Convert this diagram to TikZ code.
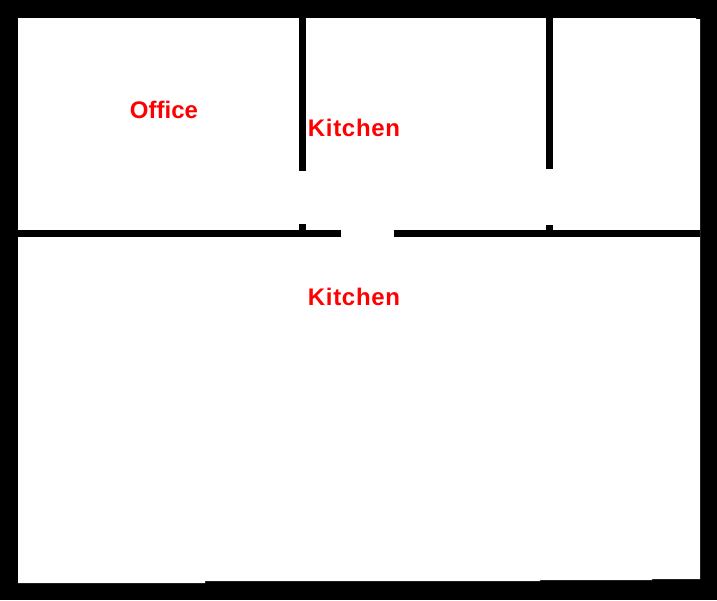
\documentclass[tikz,border=0pt]{standalone}
\usepackage{fontspec}
\setmainfont{Liberation Sans}
\newfontfamily\spacedfont[LetterSpace=3]{Liberation Sans}
\usepackage{tikz}
\usetikzlibrary{positioning}

\begin{document}
\begin{tikzpicture}[x=1pt,y=-1pt]
\tikzstyle{wall} = [fill=black];
\tikzstyle{floor} = [fill=white];
\tikzstyle{room} = [text=red, inner sep=0pt, anchor=base, font=\fontsize{24}{24}\bfseries];
% outer walls
\fill [wall] (0,0) rectangle (717,600);
\fill [floor] (18,18) -- (696,18) -- (696,19) -- (700,19) -- (700,579) -- (652,579)
  -- (652,580) -- (540,580) -- (540,581) -- (205,581) -- (205,583) -- (18,583) -- cycle;
% inner walls
\fill [wall] (299,18) rectangle (306,171);
\fill [wall] (299,224) rectangle (306,230);
\fill [wall] (546,18) rectangle (553,169);
\fill [wall] (546,225) rectangle (553,230);
\fill [wall] (18,230) rectangle (341,237);
\fill [wall] (394,230) rectangle (700,237);
% labels
\node [room] (office) at (164,118) {Office};
\node [room] (kitchenup) at (354,136) {\spacedfont Kitchen};
\node [room] (kitchendown) at (354,305) {\spacedfont Kitchen};
\end{tikzpicture}
\end{document}
